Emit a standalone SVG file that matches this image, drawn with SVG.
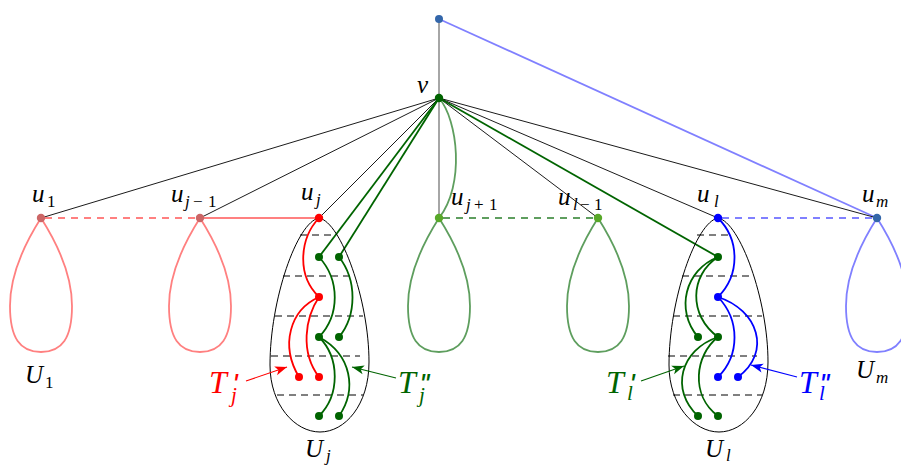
<svg xmlns="http://www.w3.org/2000/svg" width="901" height="465" viewBox="0 0 901 465">
<style>
.thin{stroke:#000;stroke-width:0.9;fill:none}
.gray{stroke:#808080;stroke-width:1.4;fill:none}
.g{stroke:#006400;stroke-width:1.8;fill:none}
.r{stroke:#ff0000;stroke-width:1.8;fill:none}
.b{stroke:#0000ff;stroke-width:1.8;fill:none}
.lg{stroke:#5e9e5e;stroke-width:1.8;fill:none}
.lr{stroke:#ff8080;stroke-width:1.8;fill:none}
.lb{stroke:#8080ff;stroke-width:1.8;fill:none}
.dash{stroke-dasharray:7 6}
.blob{stroke:#000;stroke-width:1;fill:none}
.hd{stroke:#000;stroke-width:1;stroke-dasharray:7 5;fill:none}
.ar{stroke-width:1.1;fill:none}
text{font-family:"Liberation Serif","DejaVu Serif",serif;font-style:italic;fill:#000}
.lab{font-size:25px}
.sub{font-size:17px}
.up{font-style:normal}
.big{font-size:32px}
.bsub{font-size:21px}
.pr{font-size:30px;font-style:italic;font-family:"Liberation Sans",sans-serif;letter-spacing:-1px}
.fg{fill:#006400}.fr{fill:#ff0000}.fb{fill:#0000ff}
.fmr{fill:#cc6666}.flg{fill:#58a828}.fmb{fill:#3366aa}
</style>
<defs>
<path id="loop" d="M0,0 C14,22 31,55 31,88 C31,120 21,134 0,134 C-21,134 -31,120 -31,88 C-31,55 -14,22 0,0 Z"/>
<path id="blob" d="M0,0 C22,4 50,82 50,144 C50,187 26,214 1,214 C-24,214 -49,187 -49,147 C-49,82 -22,4 0,0 Z"/>
<marker id="ar-r" viewBox="-13 -5 14 10" refX="0" refY="0" markerWidth="14" markerHeight="10" markerUnits="userSpaceOnUse" orient="auto"><path d="M0,0 L-12,-4.5 L-9,0 L-12,4.5 Z" fill="#ff0000"/></marker>
<marker id="ar-g" viewBox="-13 -5 14 10" refX="0" refY="0" markerWidth="14" markerHeight="10" markerUnits="userSpaceOnUse" orient="auto"><path d="M0,0 L-12,-4.5 L-9,0 L-12,4.5 Z" fill="#006400"/></marker>
<marker id="ar-b" viewBox="-13 -5 14 10" refX="0" refY="0" markerWidth="14" markerHeight="10" markerUnits="userSpaceOnUse" orient="auto"><path d="M0,0 L-12,-4.5 L-9,0 L-12,4.5 Z" fill="#0000ff"/></marker>
</defs>

<g id="connectors">
<line class="gray" x1="439" y1="19" x2="439" y2="218"/>
<line class="lb" x1="439" y1="19" x2="877" y2="218"/>
<line class="thin" x1="439" y1="98" x2="41" y2="218"/>
<line class="thin" x1="439" y1="98" x2="200" y2="218"/>
<line class="thin" x1="439" y1="98" x2="319" y2="218"/>
<line class="thin" x1="439" y1="98" x2="598" y2="218"/>
<line class="thin" x1="439" y1="98" x2="718" y2="218"/>
<line class="thin" x1="439" y1="98" x2="877" y2="218"/>
<path class="lg" d="M439,98 C458,120 465,185 439,218"/>
<line class="g" x1="439" y1="98" x2="319" y2="257"/>
<line class="g" x1="439" y1="98" x2="339" y2="257"/>
<line class="g" x1="439" y1="98" x2="718" y2="257"/>
<line class="lr dash" x1="45" y1="218" x2="196" y2="218"/>
<line class="lr" x1="200" y1="218" x2="319" y2="218"/>
<line class="lg dash" x1="443" y1="218" x2="594" y2="218"/>
<line class="lb dash" x1="722" y1="218" x2="873" y2="218"/>
</g>

<g id="top"><circle class="fmb" cx="439" cy="19" r="4"/></g>

<g id="v">
<circle class="fg" cx="439" cy="98" r="4.2"/>
<text class="lab" x="417" y="93">v</text>
</g>

<g id="u1">
<use href="#loop" x="41" y="218" class="lr"/>
<circle class="fmr" cx="41" cy="218" r="4.2"/>
<text class="lab" x="32" y="202">u</text><text class="sub up" x="47" y="207">1</text>
<text class="lab" x="25" y="383">U</text><text class="sub up" x="45" y="388">1</text>
</g>

<g id="uj-1">
<use href="#loop" x="200" y="218" class="lr"/>
<circle class="fmr" cx="200" cy="218" r="4.2"/>
<text class="lab" x="171" y="202">u</text>
<text class="sub" x="185" y="207">j</text><text class="sub up" x="193" y="207">−</text><text class="sub up" x="208" y="207">1</text>
</g>

<g id="uj">
<use href="#blob" x="319" y="218" class="blob"/>
<line class="hd" x1="300" y1="235" x2="332" y2="235"/>
<line class="hd" x1="283" y1="276" x2="353" y2="276"/>
<line class="hd" x1="275" y1="316" x2="363" y2="316"/>
<line class="hd" x1="271" y1="356" x2="360" y2="356"/>
<line class="hd" x1="277" y1="395" x2="363" y2="395"/>
<path class="r" d="M319,218 C300,238 296,275 319,297"/>
<path class="r" d="M319,297 C290,310 280,345 299,377"/>
<path class="r" d="M319,297 C305,318 300,352 319,377"/>
<path class="g" d="M319,257 C340,280 340,315 319,337"/>
<path class="g" d="M339,257 C357,280 357,315 339,337"/>
<path class="g" d="M319,337 C340,358 340,395 319,416"/>
<path class="g" d="M319,337 C352,355 357,390 339,416"/>
<circle class="fr" cx="319" cy="218" r="4.2"/>
<circle class="fg" cx="319" cy="257" r="4"/><circle class="fg" cx="339" cy="257" r="4"/>
<circle class="fr" cx="319" cy="297" r="4"/>
<circle class="fg" cx="319" cy="337" r="4"/><circle class="fg" cx="339" cy="337" r="4"/>
<circle class="fr" cx="299" cy="377" r="4"/><circle class="fr" cx="319" cy="377" r="4"/>
<circle class="fg" cx="319" cy="416" r="4"/><circle class="fg" cx="339" cy="416" r="4"/>
<text class="lab" x="301" y="200">u</text><text class="sub" x="316" y="205">j</text>
<text class="lab" x="305" y="457">U</text><text class="sub" x="326" y="461">j</text>
</g>

<g id="uj+1">
<use href="#loop" x="439" y="218" class="lg"/>
<circle class="flg" cx="439" cy="218" r="4.2"/>
<text class="lab" x="451" y="205">u</text>
<text class="sub" x="466" y="210">j</text><text class="sub up" x="474" y="210">+</text><text class="sub up" x="489" y="210">1</text>
</g>

<g id="ul-1">
<use href="#loop" x="598" y="218" class="lg"/>
<circle class="flg" cx="598" cy="218" r="4.2"/>
<text class="lab" x="558" y="205">u</text>
<text class="sub" x="573" y="210">l</text><text class="sub up" x="580" y="210">−</text><text class="sub up" x="594" y="210">1</text>
</g>

<g id="ul">
<use href="#blob" x="718" y="218" class="blob"/>
<line class="hd" x1="697" y1="235" x2="728" y2="235"/>
<line class="hd" x1="682" y1="276" x2="752" y2="276"/>
<line class="hd" x1="673" y1="316" x2="762" y2="316"/>
<line class="hd" x1="668" y1="356" x2="757" y2="356"/>
<line class="hd" x1="673" y1="395" x2="762" y2="395"/>
<path class="b" d="M718,218 C740,240 740,275 718,297"/>
<path class="b" d="M718,297 C740,320 740,355 718,377"/>
<path class="b" d="M718,297 C758,310 772,352 738,377"/>
<path class="g" d="M718,257 C685,270 675,310 698,337"/>
<path class="g" d="M718,257 C690,275 688,315 718,337"/>
<path class="g" d="M718,337 C680,350 670,390 698,416"/>
<path class="g" d="M718,337 C695,355 690,395 718,416"/>
<circle class="fb" cx="718" cy="218" r="4.2"/>
<circle class="fg" cx="718" cy="257" r="4"/>
<circle class="fb" cx="718" cy="297" r="4"/>
<circle class="fg" cx="698" cy="337" r="4"/><circle class="fg" cx="718" cy="337" r="4"/>
<circle class="fb" cx="718" cy="377" r="4"/><circle class="fb" cx="738" cy="377" r="4"/>
<circle class="fg" cx="698" cy="416" r="4"/><circle class="fg" cx="718" cy="416" r="4"/>
<text class="lab" x="697" y="202">u</text><text class="sub" x="714" y="207">l</text>
<text class="lab" x="705" y="457">U</text><text class="sub" x="726" y="461">l</text>
</g>

<g id="um">
<use href="#loop" x="877" y="218" class="lb"/>
<circle class="fmb" cx="877" cy="218" r="4.2"/>
<text class="lab" x="862" y="202">u</text><text class="sub" x="876" y="207">m</text>
<text class="lab" x="856" y="378">U</text><text class="sub" x="876" y="383">m</text>
</g>

<g id="tj1">
<line class="ar" stroke="#ff0000" x1="246" y1="381" x2="287" y2="367" marker-end="url(#ar-r)"/>
<text class="big" x="209" y="393" style="fill:#ff0000">T</text>
<text class="pr" x="232" y="394" style="fill:#ff0000">'</text>
<text class="bsub" x="231" y="402" style="fill:#ff0000">j</text>
</g>
<g id="tj2">
<line class="ar" stroke="#006400" x1="396" y1="378" x2="352" y2="367" marker-end="url(#ar-g)"/>
<text class="big" x="398" y="393" style="fill:#006400">T</text>
<text class="pr" x="419" y="394" style="fill:#006400">''</text>
<text class="bsub" x="419" y="402" style="fill:#006400">j</text>
</g>
<g id="tl1">
<line class="ar" stroke="#006400" x1="641" y1="381" x2="684" y2="366" marker-end="url(#ar-g)"/>
<text class="big" x="606" y="393" style="fill:#006400">T</text>
<text class="pr" x="629" y="394" style="fill:#006400">'</text>
<text class="bsub" x="627" y="400" style="fill:#006400">l</text>
</g>
<g id="tl2">
<line class="ar" stroke="#0000ff" x1="797" y1="377" x2="751" y2="365" marker-end="url(#ar-b)"/>
<text class="big" x="799" y="393" style="fill:#0000ff">T</text>
<text class="pr" x="819" y="394" style="fill:#0000ff">''</text>
<text class="bsub" x="819" y="400" style="fill:#0000ff">l</text>
</g>
</svg>
